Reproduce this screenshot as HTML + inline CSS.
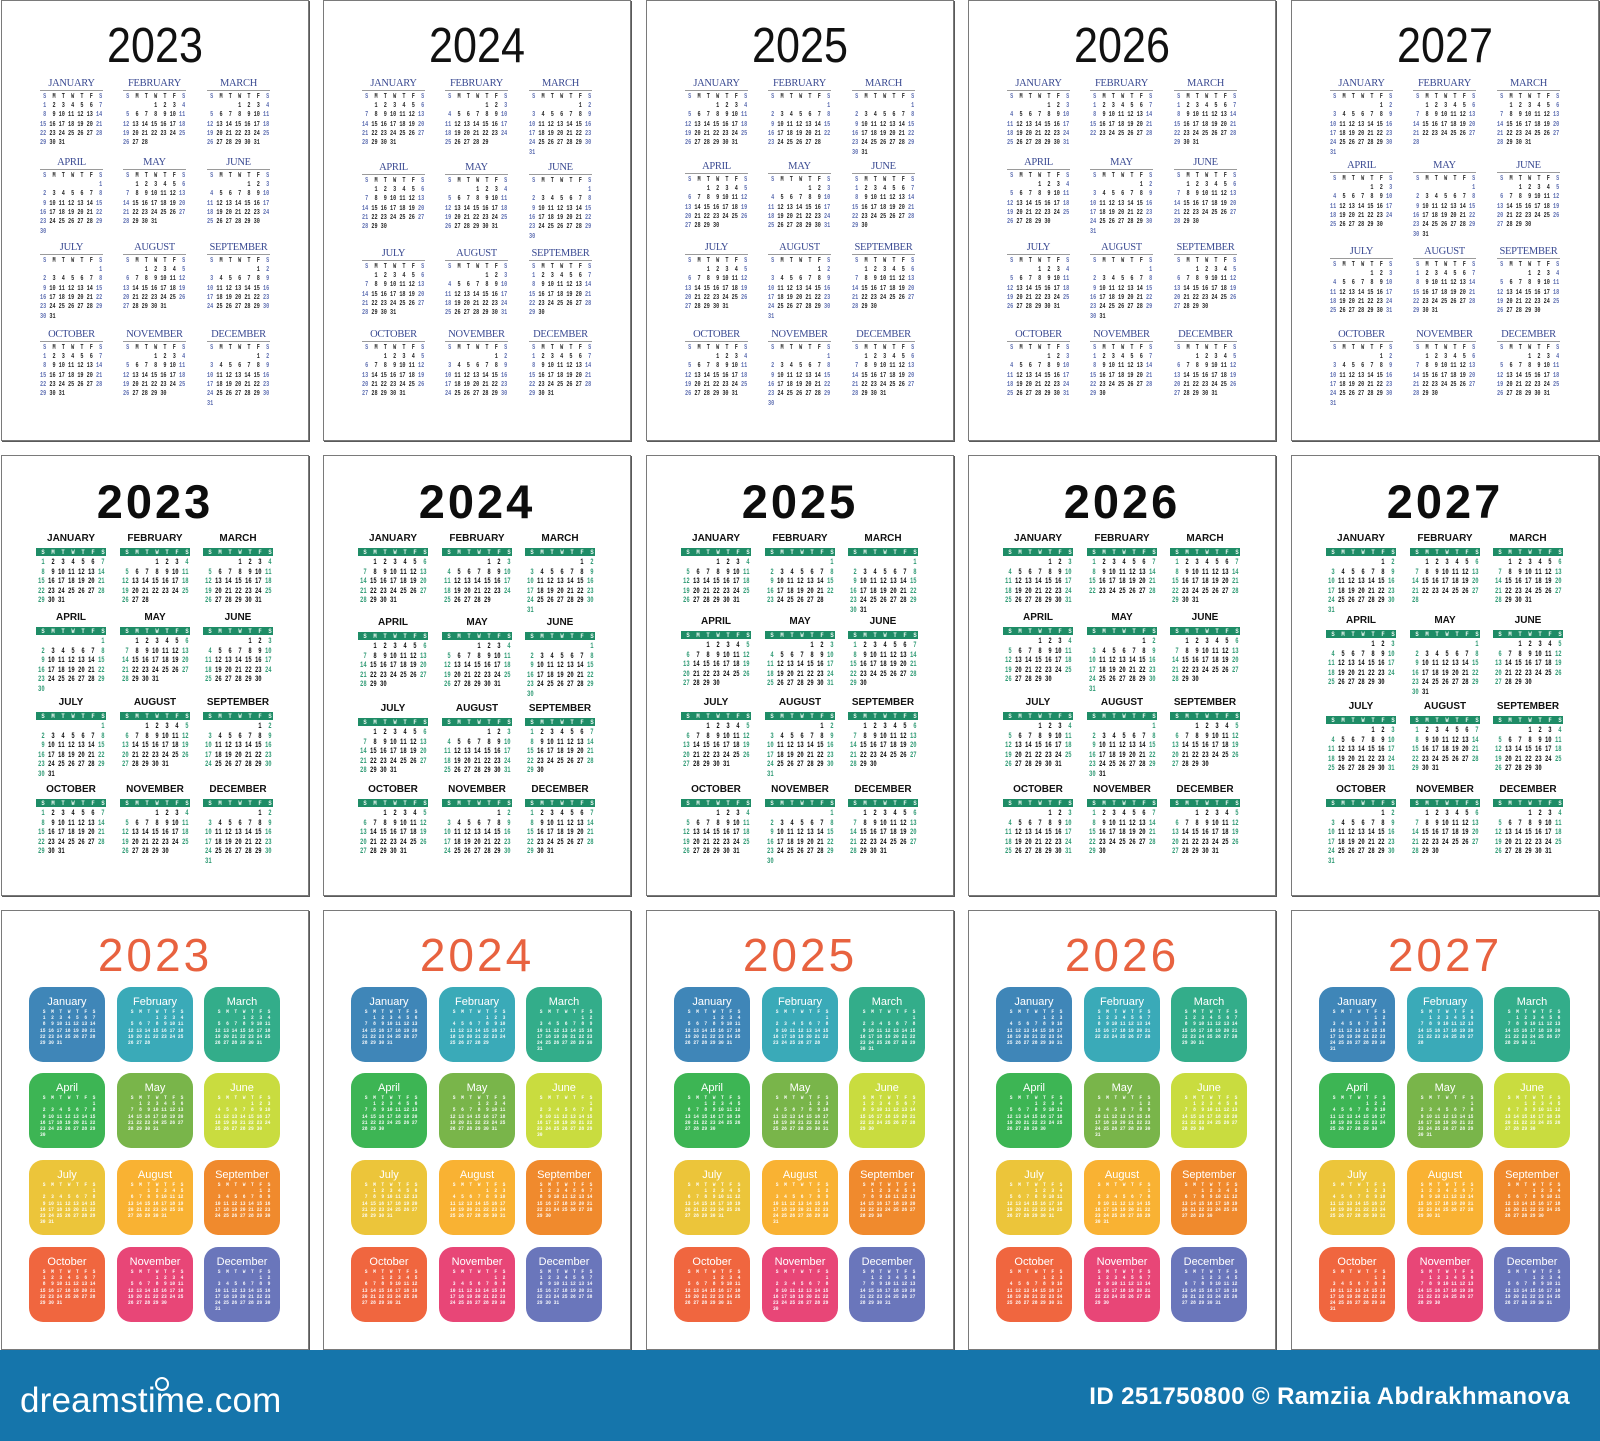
<!DOCTYPE html>
<html><head><meta charset="utf-8"><style>
*{margin:0;padding:0;box-sizing:border-box}
body{width:1600px;height:1441px;position:relative;overflow:hidden;background:#fff;font-family:"Liberation Sans",sans-serif}
.cd{position:absolute;width:308px;height:441px;border:1px solid #7a7a7a;box-shadow:1px 1px 0 #5a5a5a;background:#fff}
.x0{left:1px}.x1{left:323px}.x2{left:646px}.x3{left:968px}.x4{left:1291px}
.r1{top:0}.r2{top:455px}.r3{top:910px;height:440px}
.yr{position:absolute;left:0;width:306px;text-align:center;line-height:1}
.r1 .yr{top:21px;font-size:49px;color:#111;transform:scaleX(.88)}
.r2 .yr{top:22px;font-size:47px;font-weight:bold;letter-spacing:3px;color:#0d0d0d}
.r3 .yr{top:21px;font-size:46px;letter-spacing:3px;color:#e8623f}
.q{position:absolute;left:0;width:306px;height:80px}
.m{position:absolute;top:0}
pre{position:absolute;left:0;margin:0;font-family:"Liberation Mono",monospace;font-weight:bold;transform-origin:0 0;white-space:pre;width:20ch;-webkit-background-clip:text;background-clip:text;color:transparent}
.r1 .m{width:63px}.r1 .c1{left:38px}.r1 .c2{left:121px}.r1 .c3{left:205px}
.r1 .t{font:10.5px/12px "Liberation Serif",serif;color:#3a4a92;text-align:center;border-bottom:1px solid #9a9a9a;height:13px;letter-spacing:-.3px}
.r1 pre{top:14.85px;font-size:7.5px;line-height:9.3px;transform:scaleX(.691);background-image:linear-gradient(90deg,#5b6cb0 2.5ch,#262626 2.5ch,#262626 17.5ch,#5b6cb0 17.5ch)}
.r2 .m{width:70px}.r2 .c1{left:34px}.r2 .c2{left:118px}.r2 .c3{left:201px}
.r2 .t{font:bold 10px/12px "Liberation Sans",sans-serif;color:#111;text-align:center}
.r2 .bar{position:absolute;top:15px;left:0;width:70px;height:8px;background:#1e8c66}
.r2 pre{top:25.25px;left:1.67px;font-size:8px;line-height:9.5px;transform:scaleX(.694);background-image:linear-gradient(90deg,#2f9a74 2.5ch,#111 2.5ch,#111 17.5ch,#2f9a74 17.5ch)}
.r2 .bar pre{top:.5px;left:1.67px;font-size:6.5px;line-height:7px;transform:scaleX(.855);color:#eef8f3;background:none}
.r3 .m{width:76px;height:75px;border-radius:14px}
.r3 .c1{left:27px}.r3 .c2{left:115px}.r3 .c3{left:202px}
.r3 .t{position:absolute;top:8px;left:0;width:76px;text-align:center;font:11px/14px "Liberation Sans",sans-serif;color:#fff}
.r3 pre{top:21.9px;left:11.2px;font-size:5.5px;line-height:6.2px;transform:scaleX(.84);color:rgba(255,255,255,.92);background:none}
.k1{background:#3f86b8}.k2{background:#3aaab8}.k3{background:#33ad8a}.k4{background:#3db554}.k5{background:#79b54a}.k6{background:#c9dc3f}.k7{background:#ecc53a}.k8{background:#f9b233}.k9{background:#f08a2d}.k10{background:#f0663f}.k11{background:#e84677}.k12{background:#6a76bb}
.ft{position:absolute;left:0;top:1350px;width:1600px;height:91px;background:#1575ab}
.ds{position:absolute;left:20px;top:1383px;font-size:35px;line-height:35px;color:#fff;letter-spacing:.2px}
.sp{position:absolute;left:155px;top:1377px;width:14px;height:14px;border:2.5px solid #fff;border-radius:50%}
.id{position:absolute;right:30px;top:1385px;font:bold 24px/24px "Liberation Sans",sans-serif;color:#fff;letter-spacing:.4px}
</style></head><body>

<!-- ROW 1 -->
<div class="cd r1 x0"><div class="yr">2023</div>
<div class="q" style="top:77px">
<div class="m c1"><p class="t">JANUARY</p><pre> S  M  T  W  T  F  S
 1  2  3  4  5  6  7
 8  9 10 11 12 13 14
15 16 17 18 19 20 21
22 23 24 25 26 27 28
29 30 31</pre></div>
<div class="m c2"><p class="t">FEBRUARY</p><pre> S  M  T  W  T  F  S
          1  2  3  4
 5  6  7  8  9 10 11
12 13 14 15 16 17 18
19 20 21 22 23 24 25
26 27 28</pre></div>
<div class="m c3"><p class="t">MARCH</p><pre> S  M  T  W  T  F  S
          1  2  3  4
 5  6  7  8  9 10 11
12 13 14 15 16 17 18
19 20 21 22 23 24 25
26 27 28 29 30 31</pre></div>
</div>
<div class="q" style="top:156px">
<div class="m c1"><p class="t">APRIL</p><pre> S  M  T  W  T  F  S
                   1
 2  3  4  5  6  7  8
 9 10 11 12 13 14 15
16 17 18 19 20 21 22
23 24 25 26 27 28 29
30</pre></div>
<div class="m c2"><p class="t">MAY</p><pre> S  M  T  W  T  F  S
    1  2  3  4  5  6
 7  8  9 10 11 12 13
14 15 16 17 18 19 20
21 22 23 24 25 26 27
28 29 30 31</pre></div>
<div class="m c3"><p class="t">JUNE</p><pre> S  M  T  W  T  F  S
             1  2  3
 4  5  6  7  8  9 10
11 12 13 14 15 16 17
18 19 20 21 22 23 24
25 26 27 28 29 30</pre></div>
</div>
<div class="q" style="top:241px">
<div class="m c1"><p class="t">JULY</p><pre> S  M  T  W  T  F  S
                   1
 2  3  4  5  6  7  8
 9 10 11 12 13 14 15
16 17 18 19 20 21 22
23 24 25 26 27 28 29
30 31</pre></div>
<div class="m c2"><p class="t">AUGUST</p><pre> S  M  T  W  T  F  S
       1  2  3  4  5
 6  7  8  9 10 11 12
13 14 15 16 17 18 19
20 21 22 23 24 25 26
27 28 29 30 31</pre></div>
<div class="m c3"><p class="t">SEPTEMBER</p><pre> S  M  T  W  T  F  S
                1  2
 3  4  5  6  7  8  9
10 11 12 13 14 15 16
17 18 19 20 21 22 23
24 25 26 27 28 29 30</pre></div>
</div>
<div class="q" style="top:328px">
<div class="m c1"><p class="t">OCTOBER</p><pre> S  M  T  W  T  F  S
 1  2  3  4  5  6  7
 8  9 10 11 12 13 14
15 16 17 18 19 20 21
22 23 24 25 26 27 28
29 30 31</pre></div>
<div class="m c2"><p class="t">NOVEMBER</p><pre> S  M  T  W  T  F  S
          1  2  3  4
 5  6  7  8  9 10 11
12 13 14 15 16 17 18
19 20 21 22 23 24 25
26 27 28 29 30</pre></div>
<div class="m c3"><p class="t">DECEMBER</p><pre> S  M  T  W  T  F  S
                1  2
 3  4  5  6  7  8  9
10 11 12 13 14 15 16
17 18 19 20 21 22 23
24 25 26 27 28 29 30
31</pre></div>
</div>
</div>

<div class="cd r1 x1"><div class="yr">2024</div>
<div class="q" style="top:77px">
<div class="m c1"><p class="t">JANUARY</p><pre> S  M  T  W  T  F  S
    1  2  3  4  5  6
 7  8  9 10 11 12 13
14 15 16 17 18 19 20
21 22 23 24 25 26 27
28 29 30 31</pre></div>
<div class="m c2"><p class="t">FEBRUARY</p><pre> S  M  T  W  T  F  S
             1  2  3
 4  5  6  7  8  9 10
11 12 13 14 15 16 17
18 19 20 21 22 23 24
25 26 27 28 29</pre></div>
<div class="m c3"><p class="t">MARCH</p><pre> S  M  T  W  T  F  S
                1  2
 3  4  5  6  7  8  9
10 11 12 13 14 15 16
17 18 19 20 21 22 23
24 25 26 27 28 29 30
31</pre></div>
</div>
<div class="q" style="top:161px">
<div class="m c1"><p class="t">APRIL</p><pre> S  M  T  W  T  F  S
    1  2  3  4  5  6
 7  8  9 10 11 12 13
14 15 16 17 18 19 20
21 22 23 24 25 26 27
28 29 30</pre></div>
<div class="m c2"><p class="t">MAY</p><pre> S  M  T  W  T  F  S
          1  2  3  4
 5  6  7  8  9 10 11
12 13 14 15 16 17 18
19 20 21 22 23 24 25
26 27 28 29 30 31</pre></div>
<div class="m c3"><p class="t">JUNE</p><pre> S  M  T  W  T  F  S
                   1
 2  3  4  5  6  7  8
 9 10 11 12 13 14 15
16 17 18 19 20 21 22
23 24 25 26 27 28 29
30</pre></div>
</div>
<div class="q" style="top:247px">
<div class="m c1"><p class="t">JULY</p><pre> S  M  T  W  T  F  S
    1  2  3  4  5  6
 7  8  9 10 11 12 13
14 15 16 17 18 19 20
21 22 23 24 25 26 27
28 29 30 31</pre></div>
<div class="m c2"><p class="t">AUGUST</p><pre> S  M  T  W  T  F  S
             1  2  3
 4  5  6  7  8  9 10
11 12 13 14 15 16 17
18 19 20 21 22 23 24
25 26 27 28 29 30 31</pre></div>
<div class="m c3"><p class="t">SEPTEMBER</p><pre> S  M  T  W  T  F  S
 1  2  3  4  5  6  7
 8  9 10 11 12 13 14
15 16 17 18 19 20 21
22 23 24 25 26 27 28
29 30</pre></div>
</div>
<div class="q" style="top:328px">
<div class="m c1"><p class="t">OCTOBER</p><pre> S  M  T  W  T  F  S
       1  2  3  4  5
 6  7  8  9 10 11 12
13 14 15 16 17 18 19
20 21 22 23 24 25 26
27 28 29 30 31</pre></div>
<div class="m c2"><p class="t">NOVEMBER</p><pre> S  M  T  W  T  F  S
                1  2
 3  4  5  6  7  8  9
10 11 12 13 14 15 16
17 18 19 20 21 22 23
24 25 26 27 28 29 30</pre></div>
<div class="m c3"><p class="t">DECEMBER</p><pre> S  M  T  W  T  F  S
 1  2  3  4  5  6  7
 8  9 10 11 12 13 14
15 16 17 18 19 20 21
22 23 24 25 26 27 28
29 30 31</pre></div>
</div>
</div>

<div class="cd r1 x2"><div class="yr">2025</div>
<div class="q" style="top:77px">
<div class="m c1"><p class="t">JANUARY</p><pre> S  M  T  W  T  F  S
          1  2  3  4
 5  6  7  8  9 10 11
12 13 14 15 16 17 18
19 20 21 22 23 24 25
26 27 28 29 30 31</pre></div>
<div class="m c2"><p class="t">FEBRUARY</p><pre> S  M  T  W  T  F  S
                   1
 2  3  4  5  6  7  8
 9 10 11 12 13 14 15
16 17 18 19 20 21 22
23 24 25 26 27 28</pre></div>
<div class="m c3"><p class="t">MARCH</p><pre> S  M  T  W  T  F  S
                   1
 2  3  4  5  6  7  8
 9 10 11 12 13 14 15
16 17 18 19 20 21 22
23 24 25 26 27 28 29
30 31</pre></div>
</div>
<div class="q" style="top:160px">
<div class="m c1"><p class="t">APRIL</p><pre> S  M  T  W  T  F  S
       1  2  3  4  5
 6  7  8  9 10 11 12
13 14 15 16 17 18 19
20 21 22 23 24 25 26
27 28 29 30</pre></div>
<div class="m c2"><p class="t">MAY</p><pre> S  M  T  W  T  F  S
             1  2  3
 4  5  6  7  8  9 10
11 12 13 14 15 16 17
18 19 20 21 22 23 24
25 26 27 28 29 30 31</pre></div>
<div class="m c3"><p class="t">JUNE</p><pre> S  M  T  W  T  F  S
 1  2  3  4  5  6  7
 8  9 10 11 12 13 14
15 16 17 18 19 20 21
22 23 24 25 26 27 28
29 30</pre></div>
</div>
<div class="q" style="top:241px">
<div class="m c1"><p class="t">JULY</p><pre> S  M  T  W  T  F  S
       1  2  3  4  5
 6  7  8  9 10 11 12
13 14 15 16 17 18 19
20 21 22 23 24 25 26
27 28 29 30 31</pre></div>
<div class="m c2"><p class="t">AUGUST</p><pre> S  M  T  W  T  F  S
                1  2
 3  4  5  6  7  8  9
10 11 12 13 14 15 16
17 18 19 20 21 22 23
24 25 26 27 28 29 30
31</pre></div>
<div class="m c3"><p class="t">SEPTEMBER</p><pre> S  M  T  W  T  F  S
    1  2  3  4  5  6
 7  8  9 10 11 12 13
14 15 16 17 18 19 20
21 22 23 24 25 26 27
28 29 30</pre></div>
</div>
<div class="q" style="top:328px">
<div class="m c1"><p class="t">OCTOBER</p><pre> S  M  T  W  T  F  S
          1  2  3  4
 5  6  7  8  9 10 11
12 13 14 15 16 17 18
19 20 21 22 23 24 25
26 27 28 29 30 31</pre></div>
<div class="m c2"><p class="t">NOVEMBER</p><pre> S  M  T  W  T  F  S
                   1
 2  3  4  5  6  7  8
 9 10 11 12 13 14 15
16 17 18 19 20 21 22
23 24 25 26 27 28 29
30</pre></div>
<div class="m c3"><p class="t">DECEMBER</p><pre> S  M  T  W  T  F  S
    1  2  3  4  5  6
 7  8  9 10 11 12 13
14 15 16 17 18 19 20
21 22 23 24 25 26 27
28 29 30 31</pre></div>
</div>
</div>

<div class="cd r1 x3"><div class="yr">2026</div>
<div class="q" style="top:77px">
<div class="m c1"><p class="t">JANUARY</p><pre> S  M  T  W  T  F  S
             1  2  3
 4  5  6  7  8  9 10
11 12 13 14 15 16 17
18 19 20 21 22 23 24
25 26 27 28 29 30 31</pre></div>
<div class="m c2"><p class="t">FEBRUARY</p><pre> S  M  T  W  T  F  S
 1  2  3  4  5  6  7
 8  9 10 11 12 13 14
15 16 17 18 19 20 21
22 23 24 25 26 27 28</pre></div>
<div class="m c3"><p class="t">MARCH</p><pre> S  M  T  W  T  F  S
 1  2  3  4  5  6  7
 8  9 10 11 12 13 14
15 16 17 18 19 20 21
22 23 24 25 26 27 28
29 30 31</pre></div>
</div>
<div class="q" style="top:156px">
<div class="m c1"><p class="t">APRIL</p><pre> S  M  T  W  T  F  S
          1  2  3  4
 5  6  7  8  9 10 11
12 13 14 15 16 17 18
19 20 21 22 23 24 25
26 27 28 29 30</pre></div>
<div class="m c2"><p class="t">MAY</p><pre> S  M  T  W  T  F  S
                1  2
 3  4  5  6  7  8  9
10 11 12 13 14 15 16
17 18 19 20 21 22 23
24 25 26 27 28 29 30
31</pre></div>
<div class="m c3"><p class="t">JUNE</p><pre> S  M  T  W  T  F  S
    1  2  3  4  5  6
 7  8  9 10 11 12 13
14 15 16 17 18 19 20
21 22 23 24 25 26 27
28 29 30</pre></div>
</div>
<div class="q" style="top:241px">
<div class="m c1"><p class="t">JULY</p><pre> S  M  T  W  T  F  S
          1  2  3  4
 5  6  7  8  9 10 11
12 13 14 15 16 17 18
19 20 21 22 23 24 25
26 27 28 29 30 31</pre></div>
<div class="m c2"><p class="t">AUGUST</p><pre> S  M  T  W  T  F  S
                   1
 2  3  4  5  6  7  8
 9 10 11 12 13 14 15
16 17 18 19 20 21 22
23 24 25 26 27 28 29
30 31</pre></div>
<div class="m c3"><p class="t">SEPTEMBER</p><pre> S  M  T  W  T  F  S
       1  2  3  4  5
 6  7  8  9 10 11 12
13 14 15 16 17 18 19
20 21 22 23 24 25 26
27 28 29 30</pre></div>
</div>
<div class="q" style="top:328px">
<div class="m c1"><p class="t">OCTOBER</p><pre> S  M  T  W  T  F  S
             1  2  3
 4  5  6  7  8  9 10
11 12 13 14 15 16 17
18 19 20 21 22 23 24
25 26 27 28 29 30 31</pre></div>
<div class="m c2"><p class="t">NOVEMBER</p><pre> S  M  T  W  T  F  S
 1  2  3  4  5  6  7
 8  9 10 11 12 13 14
15 16 17 18 19 20 21
22 23 24 25 26 27 28
29 30</pre></div>
<div class="m c3"><p class="t">DECEMBER</p><pre> S  M  T  W  T  F  S
       1  2  3  4  5
 6  7  8  9 10 11 12
13 14 15 16 17 18 19
20 21 22 23 24 25 26
27 28 29 30 31</pre></div>
</div>
</div>

<div class="cd r1 x4"><div class="yr">2027</div>
<div class="q" style="top:77px">
<div class="m c1"><p class="t">JANUARY</p><pre> S  M  T  W  T  F  S
                1  2
 3  4  5  6  7  8  9
10 11 12 13 14 15 16
17 18 19 20 21 22 23
24 25 26 27 28 29 30
31</pre></div>
<div class="m c2"><p class="t">FEBRUARY</p><pre> S  M  T  W  T  F  S
    1  2  3  4  5  6
 7  8  9 10 11 12 13
14 15 16 17 18 19 20
21 22 23 24 25 26 27
28</pre></div>
<div class="m c3"><p class="t">MARCH</p><pre> S  M  T  W  T  F  S
    1  2  3  4  5  6
 7  8  9 10 11 12 13
14 15 16 17 18 19 20
21 22 23 24 25 26 27
28 29 30 31</pre></div>
</div>
<div class="q" style="top:159px">
<div class="m c1"><p class="t">APRIL</p><pre> S  M  T  W  T  F  S
             1  2  3
 4  5  6  7  8  9 10
11 12 13 14 15 16 17
18 19 20 21 22 23 24
25 26 27 28 29 30</pre></div>
<div class="m c2"><p class="t">MAY</p><pre> S  M  T  W  T  F  S
                   1
 2  3  4  5  6  7  8
 9 10 11 12 13 14 15
16 17 18 19 20 21 22
23 24 25 26 27 28 29
30 31</pre></div>
<div class="m c3"><p class="t">JUNE</p><pre> S  M  T  W  T  F  S
       1  2  3  4  5
 6  7  8  9 10 11 12
13 14 15 16 17 18 19
20 21 22 23 24 25 26
27 28 29 30</pre></div>
</div>
<div class="q" style="top:245px">
<div class="m c1"><p class="t">JULY</p><pre> S  M  T  W  T  F  S
             1  2  3
 4  5  6  7  8  9 10
11 12 13 14 15 16 17
18 19 20 21 22 23 24
25 26 27 28 29 30 31</pre></div>
<div class="m c2"><p class="t">AUGUST</p><pre> S  M  T  W  T  F  S
 1  2  3  4  5  6  7
 8  9 10 11 12 13 14
15 16 17 18 19 20 21
22 23 24 25 26 27 28
29 30 31</pre></div>
<div class="m c3"><p class="t">SEPTEMBER</p><pre> S  M  T  W  T  F  S
          1  2  3  4
 5  6  7  8  9 10 11
12 13 14 15 16 17 18
19 20 21 22 23 24 25
26 27 28 29 30</pre></div>
</div>
<div class="q" style="top:328px">
<div class="m c1"><p class="t">OCTOBER</p><pre> S  M  T  W  T  F  S
                1  2
 3  4  5  6  7  8  9
10 11 12 13 14 15 16
17 18 19 20 21 22 23
24 25 26 27 28 29 30
31</pre></div>
<div class="m c2"><p class="t">NOVEMBER</p><pre> S  M  T  W  T  F  S
    1  2  3  4  5  6
 7  8  9 10 11 12 13
14 15 16 17 18 19 20
21 22 23 24 25 26 27
28 29 30</pre></div>
<div class="m c3"><p class="t">DECEMBER</p><pre> S  M  T  W  T  F  S
          1  2  3  4
 5  6  7  8  9 10 11
12 13 14 15 16 17 18
19 20 21 22 23 24 25
26 27 28 29 30 31</pre></div>
</div>
</div>

<!-- ROW 2 -->
<div class="cd r2 x0"><div class="yr">2023</div>
<div class="q" style="top:77px">
<div class="m c1"><p class="t">JANUARY</p><div class="bar"><pre> S  M  T  W  T  F  S</pre></div><pre> 1  2  3  4  5  6  7
 8  9 10 11 12 13 14
15 16 17 18 19 20 21
22 23 24 25 26 27 28
29 30 31</pre></div>
<div class="m c2"><p class="t">FEBRUARY</p><div class="bar"><pre> S  M  T  W  T  F  S</pre></div><pre>          1  2  3  4
 5  6  7  8  9 10 11
12 13 14 15 16 17 18
19 20 21 22 23 24 25
26 27 28</pre></div>
<div class="m c3"><p class="t">MARCH</p><div class="bar"><pre> S  M  T  W  T  F  S</pre></div><pre>          1  2  3  4
 5  6  7  8  9 10 11
12 13 14 15 16 17 18
19 20 21 22 23 24 25
26 27 28 29 30 31</pre></div>
</div>
<div class="q" style="top:156px">
<div class="m c1"><p class="t">APRIL</p><div class="bar"><pre> S  M  T  W  T  F  S</pre></div><pre>                   1
 2  3  4  5  6  7  8
 9 10 11 12 13 14 15
16 17 18 19 20 21 22
23 24 25 26 27 28 29
30</pre></div>
<div class="m c2"><p class="t">MAY</p><div class="bar"><pre> S  M  T  W  T  F  S</pre></div><pre>    1  2  3  4  5  6
 7  8  9 10 11 12 13
14 15 16 17 18 19 20
21 22 23 24 25 26 27
28 29 30 31</pre></div>
<div class="m c3"><p class="t">JUNE</p><div class="bar"><pre> S  M  T  W  T  F  S</pre></div><pre>             1  2  3
 4  5  6  7  8  9 10
11 12 13 14 15 16 17
18 19 20 21 22 23 24
25 26 27 28 29 30</pre></div>
</div>
<div class="q" style="top:241px">
<div class="m c1"><p class="t">JULY</p><div class="bar"><pre> S  M  T  W  T  F  S</pre></div><pre>                   1
 2  3  4  5  6  7  8
 9 10 11 12 13 14 15
16 17 18 19 20 21 22
23 24 25 26 27 28 29
30 31</pre></div>
<div class="m c2"><p class="t">AUGUST</p><div class="bar"><pre> S  M  T  W  T  F  S</pre></div><pre>       1  2  3  4  5
 6  7  8  9 10 11 12
13 14 15 16 17 18 19
20 21 22 23 24 25 26
27 28 29 30 31</pre></div>
<div class="m c3"><p class="t">SEPTEMBER</p><div class="bar"><pre> S  M  T  W  T  F  S</pre></div><pre>                1  2
 3  4  5  6  7  8  9
10 11 12 13 14 15 16
17 18 19 20 21 22 23
24 25 26 27 28 29 30</pre></div>
</div>
<div class="q" style="top:328px">
<div class="m c1"><p class="t">OCTOBER</p><div class="bar"><pre> S  M  T  W  T  F  S</pre></div><pre> 1  2  3  4  5  6  7
 8  9 10 11 12 13 14
15 16 17 18 19 20 21
22 23 24 25 26 27 28
29 30 31</pre></div>
<div class="m c2"><p class="t">NOVEMBER</p><div class="bar"><pre> S  M  T  W  T  F  S</pre></div><pre>          1  2  3  4
 5  6  7  8  9 10 11
12 13 14 15 16 17 18
19 20 21 22 23 24 25
26 27 28 29 30</pre></div>
<div class="m c3"><p class="t">DECEMBER</p><div class="bar"><pre> S  M  T  W  T  F  S</pre></div><pre>                1  2
 3  4  5  6  7  8  9
10 11 12 13 14 15 16
17 18 19 20 21 22 23
24 25 26 27 28 29 30
31</pre></div>
</div>
</div>

<div class="cd r2 x1"><div class="yr">2024</div>
<div class="q" style="top:77px">
<div class="m c1"><p class="t">JANUARY</p><div class="bar"><pre> S  M  T  W  T  F  S</pre></div><pre>    1  2  3  4  5  6
 7  8  9 10 11 12 13
14 15 16 17 18 19 20
21 22 23 24 25 26 27
28 29 30 31</pre></div>
<div class="m c2"><p class="t">FEBRUARY</p><div class="bar"><pre> S  M  T  W  T  F  S</pre></div><pre>             1  2  3
 4  5  6  7  8  9 10
11 12 13 14 15 16 17
18 19 20 21 22 23 24
25 26 27 28 29</pre></div>
<div class="m c3"><p class="t">MARCH</p><div class="bar"><pre> S  M  T  W  T  F  S</pre></div><pre>                1  2
 3  4  5  6  7  8  9
10 11 12 13 14 15 16
17 18 19 20 21 22 23
24 25 26 27 28 29 30
31</pre></div>
</div>
<div class="q" style="top:161px">
<div class="m c1"><p class="t">APRIL</p><div class="bar"><pre> S  M  T  W  T  F  S</pre></div><pre>    1  2  3  4  5  6
 7  8  9 10 11 12 13
14 15 16 17 18 19 20
21 22 23 24 25 26 27
28 29 30</pre></div>
<div class="m c2"><p class="t">MAY</p><div class="bar"><pre> S  M  T  W  T  F  S</pre></div><pre>          1  2  3  4
 5  6  7  8  9 10 11
12 13 14 15 16 17 18
19 20 21 22 23 24 25
26 27 28 29 30 31</pre></div>
<div class="m c3"><p class="t">JUNE</p><div class="bar"><pre> S  M  T  W  T  F  S</pre></div><pre>                   1
 2  3  4  5  6  7  8
 9 10 11 12 13 14 15
16 17 18 19 20 21 22
23 24 25 26 27 28 29
30</pre></div>
</div>
<div class="q" style="top:247px">
<div class="m c1"><p class="t">JULY</p><div class="bar"><pre> S  M  T  W  T  F  S</pre></div><pre>    1  2  3  4  5  6
 7  8  9 10 11 12 13
14 15 16 17 18 19 20
21 22 23 24 25 26 27
28 29 30 31</pre></div>
<div class="m c2"><p class="t">AUGUST</p><div class="bar"><pre> S  M  T  W  T  F  S</pre></div><pre>             1  2  3
 4  5  6  7  8  9 10
11 12 13 14 15 16 17
18 19 20 21 22 23 24
25 26 27 28 29 30 31</pre></div>
<div class="m c3"><p class="t">SEPTEMBER</p><div class="bar"><pre> S  M  T  W  T  F  S</pre></div><pre> 1  2  3  4  5  6  7
 8  9 10 11 12 13 14
15 16 17 18 19 20 21
22 23 24 25 26 27 28
29 30</pre></div>
</div>
<div class="q" style="top:328px">
<div class="m c1"><p class="t">OCTOBER</p><div class="bar"><pre> S  M  T  W  T  F  S</pre></div><pre>       1  2  3  4  5
 6  7  8  9 10 11 12
13 14 15 16 17 18 19
20 21 22 23 24 25 26
27 28 29 30 31</pre></div>
<div class="m c2"><p class="t">NOVEMBER</p><div class="bar"><pre> S  M  T  W  T  F  S</pre></div><pre>                1  2
 3  4  5  6  7  8  9
10 11 12 13 14 15 16
17 18 19 20 21 22 23
24 25 26 27 28 29 30</pre></div>
<div class="m c3"><p class="t">DECEMBER</p><div class="bar"><pre> S  M  T  W  T  F  S</pre></div><pre> 1  2  3  4  5  6  7
 8  9 10 11 12 13 14
15 16 17 18 19 20 21
22 23 24 25 26 27 28
29 30 31</pre></div>
</div>
</div>

<div class="cd r2 x2"><div class="yr">2025</div>
<div class="q" style="top:77px">
<div class="m c1"><p class="t">JANUARY</p><div class="bar"><pre> S  M  T  W  T  F  S</pre></div><pre>          1  2  3  4
 5  6  7  8  9 10 11
12 13 14 15 16 17 18
19 20 21 22 23 24 25
26 27 28 29 30 31</pre></div>
<div class="m c2"><p class="t">FEBRUARY</p><div class="bar"><pre> S  M  T  W  T  F  S</pre></div><pre>                   1
 2  3  4  5  6  7  8
 9 10 11 12 13 14 15
16 17 18 19 20 21 22
23 24 25 26 27 28</pre></div>
<div class="m c3"><p class="t">MARCH</p><div class="bar"><pre> S  M  T  W  T  F  S</pre></div><pre>                   1
 2  3  4  5  6  7  8
 9 10 11 12 13 14 15
16 17 18 19 20 21 22
23 24 25 26 27 28 29
30 31</pre></div>
</div>
<div class="q" style="top:160px">
<div class="m c1"><p class="t">APRIL</p><div class="bar"><pre> S  M  T  W  T  F  S</pre></div><pre>       1  2  3  4  5
 6  7  8  9 10 11 12
13 14 15 16 17 18 19
20 21 22 23 24 25 26
27 28 29 30</pre></div>
<div class="m c2"><p class="t">MAY</p><div class="bar"><pre> S  M  T  W  T  F  S</pre></div><pre>             1  2  3
 4  5  6  7  8  9 10
11 12 13 14 15 16 17
18 19 20 21 22 23 24
25 26 27 28 29 30 31</pre></div>
<div class="m c3"><p class="t">JUNE</p><div class="bar"><pre> S  M  T  W  T  F  S</pre></div><pre> 1  2  3  4  5  6  7
 8  9 10 11 12 13 14
15 16 17 18 19 20 21
22 23 24 25 26 27 28
29 30</pre></div>
</div>
<div class="q" style="top:241px">
<div class="m c1"><p class="t">JULY</p><div class="bar"><pre> S  M  T  W  T  F  S</pre></div><pre>       1  2  3  4  5
 6  7  8  9 10 11 12
13 14 15 16 17 18 19
20 21 22 23 24 25 26
27 28 29 30 31</pre></div>
<div class="m c2"><p class="t">AUGUST</p><div class="bar"><pre> S  M  T  W  T  F  S</pre></div><pre>                1  2
 3  4  5  6  7  8  9
10 11 12 13 14 15 16
17 18 19 20 21 22 23
24 25 26 27 28 29 30
31</pre></div>
<div class="m c3"><p class="t">SEPTEMBER</p><div class="bar"><pre> S  M  T  W  T  F  S</pre></div><pre>    1  2  3  4  5  6
 7  8  9 10 11 12 13
14 15 16 17 18 19 20
21 22 23 24 25 26 27
28 29 30</pre></div>
</div>
<div class="q" style="top:328px">
<div class="m c1"><p class="t">OCTOBER</p><div class="bar"><pre> S  M  T  W  T  F  S</pre></div><pre>          1  2  3  4
 5  6  7  8  9 10 11
12 13 14 15 16 17 18
19 20 21 22 23 24 25
26 27 28 29 30 31</pre></div>
<div class="m c2"><p class="t">NOVEMBER</p><div class="bar"><pre> S  M  T  W  T  F  S</pre></div><pre>                   1
 2  3  4  5  6  7  8
 9 10 11 12 13 14 15
16 17 18 19 20 21 22
23 24 25 26 27 28 29
30</pre></div>
<div class="m c3"><p class="t">DECEMBER</p><div class="bar"><pre> S  M  T  W  T  F  S</pre></div><pre>    1  2  3  4  5  6
 7  8  9 10 11 12 13
14 15 16 17 18 19 20
21 22 23 24 25 26 27
28 29 30 31</pre></div>
</div>
</div>

<div class="cd r2 x3"><div class="yr">2026</div>
<div class="q" style="top:77px">
<div class="m c1"><p class="t">JANUARY</p><div class="bar"><pre> S  M  T  W  T  F  S</pre></div><pre>             1  2  3
 4  5  6  7  8  9 10
11 12 13 14 15 16 17
18 19 20 21 22 23 24
25 26 27 28 29 30 31</pre></div>
<div class="m c2"><p class="t">FEBRUARY</p><div class="bar"><pre> S  M  T  W  T  F  S</pre></div><pre> 1  2  3  4  5  6  7
 8  9 10 11 12 13 14
15 16 17 18 19 20 21
22 23 24 25 26 27 28</pre></div>
<div class="m c3"><p class="t">MARCH</p><div class="bar"><pre> S  M  T  W  T  F  S</pre></div><pre> 1  2  3  4  5  6  7
 8  9 10 11 12 13 14
15 16 17 18 19 20 21
22 23 24 25 26 27 28
29 30 31</pre></div>
</div>
<div class="q" style="top:156px">
<div class="m c1"><p class="t">APRIL</p><div class="bar"><pre> S  M  T  W  T  F  S</pre></div><pre>          1  2  3  4
 5  6  7  8  9 10 11
12 13 14 15 16 17 18
19 20 21 22 23 24 25
26 27 28 29 30</pre></div>
<div class="m c2"><p class="t">MAY</p><div class="bar"><pre> S  M  T  W  T  F  S</pre></div><pre>                1  2
 3  4  5  6  7  8  9
10 11 12 13 14 15 16
17 18 19 20 21 22 23
24 25 26 27 28 29 30
31</pre></div>
<div class="m c3"><p class="t">JUNE</p><div class="bar"><pre> S  M  T  W  T  F  S</pre></div><pre>    1  2  3  4  5  6
 7  8  9 10 11 12 13
14 15 16 17 18 19 20
21 22 23 24 25 26 27
28 29 30</pre></div>
</div>
<div class="q" style="top:241px">
<div class="m c1"><p class="t">JULY</p><div class="bar"><pre> S  M  T  W  T  F  S</pre></div><pre>          1  2  3  4
 5  6  7  8  9 10 11
12 13 14 15 16 17 18
19 20 21 22 23 24 25
26 27 28 29 30 31</pre></div>
<div class="m c2"><p class="t">AUGUST</p><div class="bar"><pre> S  M  T  W  T  F  S</pre></div><pre>                   1
 2  3  4  5  6  7  8
 9 10 11 12 13 14 15
16 17 18 19 20 21 22
23 24 25 26 27 28 29
30 31</pre></div>
<div class="m c3"><p class="t">SEPTEMBER</p><div class="bar"><pre> S  M  T  W  T  F  S</pre></div><pre>       1  2  3  4  5
 6  7  8  9 10 11 12
13 14 15 16 17 18 19
20 21 22 23 24 25 26
27 28 29 30</pre></div>
</div>
<div class="q" style="top:328px">
<div class="m c1"><p class="t">OCTOBER</p><div class="bar"><pre> S  M  T  W  T  F  S</pre></div><pre>             1  2  3
 4  5  6  7  8  9 10
11 12 13 14 15 16 17
18 19 20 21 22 23 24
25 26 27 28 29 30 31</pre></div>
<div class="m c2"><p class="t">NOVEMBER</p><div class="bar"><pre> S  M  T  W  T  F  S</pre></div><pre> 1  2  3  4  5  6  7
 8  9 10 11 12 13 14
15 16 17 18 19 20 21
22 23 24 25 26 27 28
29 30</pre></div>
<div class="m c3"><p class="t">DECEMBER</p><div class="bar"><pre> S  M  T  W  T  F  S</pre></div><pre>       1  2  3  4  5
 6  7  8  9 10 11 12
13 14 15 16 17 18 19
20 21 22 23 24 25 26
27 28 29 30 31</pre></div>
</div>
</div>

<div class="cd r2 x4"><div class="yr">2027</div>
<div class="q" style="top:77px">
<div class="m c1"><p class="t">JANUARY</p><div class="bar"><pre> S  M  T  W  T  F  S</pre></div><pre>                1  2
 3  4  5  6  7  8  9
10 11 12 13 14 15 16
17 18 19 20 21 22 23
24 25 26 27 28 29 30
31</pre></div>
<div class="m c2"><p class="t">FEBRUARY</p><div class="bar"><pre> S  M  T  W  T  F  S</pre></div><pre>    1  2  3  4  5  6
 7  8  9 10 11 12 13
14 15 16 17 18 19 20
21 22 23 24 25 26 27
28</pre></div>
<div class="m c3"><p class="t">MARCH</p><div class="bar"><pre> S  M  T  W  T  F  S</pre></div><pre>    1  2  3  4  5  6
 7  8  9 10 11 12 13
14 15 16 17 18 19 20
21 22 23 24 25 26 27
28 29 30 31</pre></div>
</div>
<div class="q" style="top:159px">
<div class="m c1"><p class="t">APRIL</p><div class="bar"><pre> S  M  T  W  T  F  S</pre></div><pre>             1  2  3
 4  5  6  7  8  9 10
11 12 13 14 15 16 17
18 19 20 21 22 23 24
25 26 27 28 29 30</pre></div>
<div class="m c2"><p class="t">MAY</p><div class="bar"><pre> S  M  T  W  T  F  S</pre></div><pre>                   1
 2  3  4  5  6  7  8
 9 10 11 12 13 14 15
16 17 18 19 20 21 22
23 24 25 26 27 28 29
30 31</pre></div>
<div class="m c3"><p class="t">JUNE</p><div class="bar"><pre> S  M  T  W  T  F  S</pre></div><pre>       1  2  3  4  5
 6  7  8  9 10 11 12
13 14 15 16 17 18 19
20 21 22 23 24 25 26
27 28 29 30</pre></div>
</div>
<div class="q" style="top:245px">
<div class="m c1"><p class="t">JULY</p><div class="bar"><pre> S  M  T  W  T  F  S</pre></div><pre>             1  2  3
 4  5  6  7  8  9 10
11 12 13 14 15 16 17
18 19 20 21 22 23 24
25 26 27 28 29 30 31</pre></div>
<div class="m c2"><p class="t">AUGUST</p><div class="bar"><pre> S  M  T  W  T  F  S</pre></div><pre> 1  2  3  4  5  6  7
 8  9 10 11 12 13 14
15 16 17 18 19 20 21
22 23 24 25 26 27 28
29 30 31</pre></div>
<div class="m c3"><p class="t">SEPTEMBER</p><div class="bar"><pre> S  M  T  W  T  F  S</pre></div><pre>          1  2  3  4
 5  6  7  8  9 10 11
12 13 14 15 16 17 18
19 20 21 22 23 24 25
26 27 28 29 30</pre></div>
</div>
<div class="q" style="top:328px">
<div class="m c1"><p class="t">OCTOBER</p><div class="bar"><pre> S  M  T  W  T  F  S</pre></div><pre>                1  2
 3  4  5  6  7  8  9
10 11 12 13 14 15 16
17 18 19 20 21 22 23
24 25 26 27 28 29 30
31</pre></div>
<div class="m c2"><p class="t">NOVEMBER</p><div class="bar"><pre> S  M  T  W  T  F  S</pre></div><pre>    1  2  3  4  5  6
 7  8  9 10 11 12 13
14 15 16 17 18 19 20
21 22 23 24 25 26 27
28 29 30</pre></div>
<div class="m c3"><p class="t">DECEMBER</p><div class="bar"><pre> S  M  T  W  T  F  S</pre></div><pre>          1  2  3  4
 5  6  7  8  9 10 11
12 13 14 15 16 17 18
19 20 21 22 23 24 25
26 27 28 29 30 31</pre></div>
</div>
</div>

<!-- ROW 3 -->
<div class="cd r3 x0"><div class="yr">2023</div>
<div class="q" style="top:76px">
<div class="m c1 k1"><p class="t">January</p><pre> S  M  T  W  T  F  S
 1  2  3  4  5  6  7
 8  9 10 11 12 13 14
15 16 17 18 19 20 21
22 23 24 25 26 27 28
29 30 31</pre></div>
<div class="m c2 k2"><p class="t">February</p><pre> S  M  T  W  T  F  S
          1  2  3  4
 5  6  7  8  9 10 11
12 13 14 15 16 17 18
19 20 21 22 23 24 25
26 27 28</pre></div>
<div class="m c3 k3"><p class="t">March</p><pre> S  M  T  W  T  F  S
          1  2  3  4
 5  6  7  8  9 10 11
12 13 14 15 16 17 18
19 20 21 22 23 24 25
26 27 28 29 30 31</pre></div>
</div>
<div class="q" style="top:162px">
<div class="m c1 k4"><p class="t">April</p><pre> S  M  T  W  T  F  S
                   1
 2  3  4  5  6  7  8
 9 10 11 12 13 14 15
16 17 18 19 20 21 22
23 24 25 26 27 28 29
30</pre></div>
<div class="m c2 k5"><p class="t">May</p><pre> S  M  T  W  T  F  S
    1  2  3  4  5  6
 7  8  9 10 11 12 13
14 15 16 17 18 19 20
21 22 23 24 25 26 27
28 29 30 31</pre></div>
<div class="m c3 k6"><p class="t">June</p><pre> S  M  T  W  T  F  S
             1  2  3
 4  5  6  7  8  9 10
11 12 13 14 15 16 17
18 19 20 21 22 23 24
25 26 27 28 29 30</pre></div>
</div>
<div class="q" style="top:249px">
<div class="m c1 k7"><p class="t">July</p><pre> S  M  T  W  T  F  S
                   1
 2  3  4  5  6  7  8
 9 10 11 12 13 14 15
16 17 18 19 20 21 22
23 24 25 26 27 28 29
30 31</pre></div>
<div class="m c2 k8"><p class="t">August</p><pre> S  M  T  W  T  F  S
       1  2  3  4  5
 6  7  8  9 10 11 12
13 14 15 16 17 18 19
20 21 22 23 24 25 26
27 28 29 30 31</pre></div>
<div class="m c3 k9"><p class="t">September</p><pre> S  M  T  W  T  F  S
                1  2
 3  4  5  6  7  8  9
10 11 12 13 14 15 16
17 18 19 20 21 22 23
24 25 26 27 28 29 30</pre></div>
</div>
<div class="q" style="top:336px">
<div class="m c1 k10"><p class="t">October</p><pre> S  M  T  W  T  F  S
 1  2  3  4  5  6  7
 8  9 10 11 12 13 14
15 16 17 18 19 20 21
22 23 24 25 26 27 28
29 30 31</pre></div>
<div class="m c2 k11"><p class="t">November</p><pre> S  M  T  W  T  F  S
          1  2  3  4
 5  6  7  8  9 10 11
12 13 14 15 16 17 18
19 20 21 22 23 24 25
26 27 28 29 30</pre></div>
<div class="m c3 k12"><p class="t">December</p><pre> S  M  T  W  T  F  S
                1  2
 3  4  5  6  7  8  9
10 11 12 13 14 15 16
17 18 19 20 21 22 23
24 25 26 27 28 29 30
31</pre></div>
</div>
</div>

<div class="cd r3 x1"><div class="yr">2024</div>
<div class="q" style="top:76px">
<div class="m c1 k1"><p class="t">January</p><pre> S  M  T  W  T  F  S
    1  2  3  4  5  6
 7  8  9 10 11 12 13
14 15 16 17 18 19 20
21 22 23 24 25 26 27
28 29 30 31</pre></div>
<div class="m c2 k2"><p class="t">February</p><pre> S  M  T  W  T  F  S
             1  2  3
 4  5  6  7  8  9 10
11 12 13 14 15 16 17
18 19 20 21 22 23 24
25 26 27 28 29</pre></div>
<div class="m c3 k3"><p class="t">March</p><pre> S  M  T  W  T  F  S
                1  2
 3  4  5  6  7  8  9
10 11 12 13 14 15 16
17 18 19 20 21 22 23
24 25 26 27 28 29 30
31</pre></div>
</div>
<div class="q" style="top:162px">
<div class="m c1 k4"><p class="t">April</p><pre> S  M  T  W  T  F  S
    1  2  3  4  5  6
 7  8  9 10 11 12 13
14 15 16 17 18 19 20
21 22 23 24 25 26 27
28 29 30</pre></div>
<div class="m c2 k5"><p class="t">May</p><pre> S  M  T  W  T  F  S
          1  2  3  4
 5  6  7  8  9 10 11
12 13 14 15 16 17 18
19 20 21 22 23 24 25
26 27 28 29 30 31</pre></div>
<div class="m c3 k6"><p class="t">June</p><pre> S  M  T  W  T  F  S
                   1
 2  3  4  5  6  7  8
 9 10 11 12 13 14 15
16 17 18 19 20 21 22
23 24 25 26 27 28 29
30</pre></div>
</div>
<div class="q" style="top:249px">
<div class="m c1 k7"><p class="t">July</p><pre> S  M  T  W  T  F  S
    1  2  3  4  5  6
 7  8  9 10 11 12 13
14 15 16 17 18 19 20
21 22 23 24 25 26 27
28 29 30 31</pre></div>
<div class="m c2 k8"><p class="t">August</p><pre> S  M  T  W  T  F  S
             1  2  3
 4  5  6  7  8  9 10
11 12 13 14 15 16 17
18 19 20 21 22 23 24
25 26 27 28 29 30 31</pre></div>
<div class="m c3 k9"><p class="t">September</p><pre> S  M  T  W  T  F  S
 1  2  3  4  5  6  7
 8  9 10 11 12 13 14
15 16 17 18 19 20 21
22 23 24 25 26 27 28
29 30</pre></div>
</div>
<div class="q" style="top:336px">
<div class="m c1 k10"><p class="t">October</p><pre> S  M  T  W  T  F  S
       1  2  3  4  5
 6  7  8  9 10 11 12
13 14 15 16 17 18 19
20 21 22 23 24 25 26
27 28 29 30 31</pre></div>
<div class="m c2 k11"><p class="t">November</p><pre> S  M  T  W  T  F  S
                1  2
 3  4  5  6  7  8  9
10 11 12 13 14 15 16
17 18 19 20 21 22 23
24 25 26 27 28 29 30</pre></div>
<div class="m c3 k12"><p class="t">December</p><pre> S  M  T  W  T  F  S
 1  2  3  4  5  6  7
 8  9 10 11 12 13 14
15 16 17 18 19 20 21
22 23 24 25 26 27 28
29 30 31</pre></div>
</div>
</div>

<div class="cd r3 x2"><div class="yr">2025</div>
<div class="q" style="top:76px">
<div class="m c1 k1"><p class="t">January</p><pre> S  M  T  W  T  F  S
          1  2  3  4
 5  6  7  8  9 10 11
12 13 14 15 16 17 18
19 20 21 22 23 24 25
26 27 28 29 30 31</pre></div>
<div class="m c2 k2"><p class="t">February</p><pre> S  M  T  W  T  F  S
                   1
 2  3  4  5  6  7  8
 9 10 11 12 13 14 15
16 17 18 19 20 21 22
23 24 25 26 27 28</pre></div>
<div class="m c3 k3"><p class="t">March</p><pre> S  M  T  W  T  F  S
                   1
 2  3  4  5  6  7  8
 9 10 11 12 13 14 15
16 17 18 19 20 21 22
23 24 25 26 27 28 29
30 31</pre></div>
</div>
<div class="q" style="top:162px">
<div class="m c1 k4"><p class="t">April</p><pre> S  M  T  W  T  F  S
       1  2  3  4  5
 6  7  8  9 10 11 12
13 14 15 16 17 18 19
20 21 22 23 24 25 26
27 28 29 30</pre></div>
<div class="m c2 k5"><p class="t">May</p><pre> S  M  T  W  T  F  S
             1  2  3
 4  5  6  7  8  9 10
11 12 13 14 15 16 17
18 19 20 21 22 23 24
25 26 27 28 29 30 31</pre></div>
<div class="m c3 k6"><p class="t">June</p><pre> S  M  T  W  T  F  S
 1  2  3  4  5  6  7
 8  9 10 11 12 13 14
15 16 17 18 19 20 21
22 23 24 25 26 27 28
29 30</pre></div>
</div>
<div class="q" style="top:249px">
<div class="m c1 k7"><p class="t">July</p><pre> S  M  T  W  T  F  S
       1  2  3  4  5
 6  7  8  9 10 11 12
13 14 15 16 17 18 19
20 21 22 23 24 25 26
27 28 29 30 31</pre></div>
<div class="m c2 k8"><p class="t">August</p><pre> S  M  T  W  T  F  S
                1  2
 3  4  5  6  7  8  9
10 11 12 13 14 15 16
17 18 19 20 21 22 23
24 25 26 27 28 29 30
31</pre></div>
<div class="m c3 k9"><p class="t">September</p><pre> S  M  T  W  T  F  S
    1  2  3  4  5  6
 7  8  9 10 11 12 13
14 15 16 17 18 19 20
21 22 23 24 25 26 27
28 29 30</pre></div>
</div>
<div class="q" style="top:336px">
<div class="m c1 k10"><p class="t">October</p><pre> S  M  T  W  T  F  S
          1  2  3  4
 5  6  7  8  9 10 11
12 13 14 15 16 17 18
19 20 21 22 23 24 25
26 27 28 29 30 31</pre></div>
<div class="m c2 k11"><p class="t">November</p><pre> S  M  T  W  T  F  S
                   1
 2  3  4  5  6  7  8
 9 10 11 12 13 14 15
16 17 18 19 20 21 22
23 24 25 26 27 28 29
30</pre></div>
<div class="m c3 k12"><p class="t">December</p><pre> S  M  T  W  T  F  S
    1  2  3  4  5  6
 7  8  9 10 11 12 13
14 15 16 17 18 19 20
21 22 23 24 25 26 27
28 29 30 31</pre></div>
</div>
</div>

<div class="cd r3 x3"><div class="yr">2026</div>
<div class="q" style="top:76px">
<div class="m c1 k1"><p class="t">January</p><pre> S  M  T  W  T  F  S
             1  2  3
 4  5  6  7  8  9 10
11 12 13 14 15 16 17
18 19 20 21 22 23 24
25 26 27 28 29 30 31</pre></div>
<div class="m c2 k2"><p class="t">February</p><pre> S  M  T  W  T  F  S
 1  2  3  4  5  6  7
 8  9 10 11 12 13 14
15 16 17 18 19 20 21
22 23 24 25 26 27 28</pre></div>
<div class="m c3 k3"><p class="t">March</p><pre> S  M  T  W  T  F  S
 1  2  3  4  5  6  7
 8  9 10 11 12 13 14
15 16 17 18 19 20 21
22 23 24 25 26 27 28
29 30 31</pre></div>
</div>
<div class="q" style="top:162px">
<div class="m c1 k4"><p class="t">April</p><pre> S  M  T  W  T  F  S
          1  2  3  4
 5  6  7  8  9 10 11
12 13 14 15 16 17 18
19 20 21 22 23 24 25
26 27 28 29 30</pre></div>
<div class="m c2 k5"><p class="t">May</p><pre> S  M  T  W  T  F  S
                1  2
 3  4  5  6  7  8  9
10 11 12 13 14 15 16
17 18 19 20 21 22 23
24 25 26 27 28 29 30
31</pre></div>
<div class="m c3 k6"><p class="t">June</p><pre> S  M  T  W  T  F  S
    1  2  3  4  5  6
 7  8  9 10 11 12 13
14 15 16 17 18 19 20
21 22 23 24 25 26 27
28 29 30</pre></div>
</div>
<div class="q" style="top:249px">
<div class="m c1 k7"><p class="t">July</p><pre> S  M  T  W  T  F  S
          1  2  3  4
 5  6  7  8  9 10 11
12 13 14 15 16 17 18
19 20 21 22 23 24 25
26 27 28 29 30 31</pre></div>
<div class="m c2 k8"><p class="t">August</p><pre> S  M  T  W  T  F  S
                   1
 2  3  4  5  6  7  8
 9 10 11 12 13 14 15
16 17 18 19 20 21 22
23 24 25 26 27 28 29
30 31</pre></div>
<div class="m c3 k9"><p class="t">September</p><pre> S  M  T  W  T  F  S
       1  2  3  4  5
 6  7  8  9 10 11 12
13 14 15 16 17 18 19
20 21 22 23 24 25 26
27 28 29 30</pre></div>
</div>
<div class="q" style="top:336px">
<div class="m c1 k10"><p class="t">October</p><pre> S  M  T  W  T  F  S
             1  2  3
 4  5  6  7  8  9 10
11 12 13 14 15 16 17
18 19 20 21 22 23 24
25 26 27 28 29 30 31</pre></div>
<div class="m c2 k11"><p class="t">November</p><pre> S  M  T  W  T  F  S
 1  2  3  4  5  6  7
 8  9 10 11 12 13 14
15 16 17 18 19 20 21
22 23 24 25 26 27 28
29 30</pre></div>
<div class="m c3 k12"><p class="t">December</p><pre> S  M  T  W  T  F  S
       1  2  3  4  5
 6  7  8  9 10 11 12
13 14 15 16 17 18 19
20 21 22 23 24 25 26
27 28 29 30 31</pre></div>
</div>
</div>

<div class="cd r3 x4"><div class="yr">2027</div>
<div class="q" style="top:76px">
<div class="m c1 k1"><p class="t">January</p><pre> S  M  T  W  T  F  S
                1  2
 3  4  5  6  7  8  9
10 11 12 13 14 15 16
17 18 19 20 21 22 23
24 25 26 27 28 29 30
31</pre></div>
<div class="m c2 k2"><p class="t">February</p><pre> S  M  T  W  T  F  S
    1  2  3  4  5  6
 7  8  9 10 11 12 13
14 15 16 17 18 19 20
21 22 23 24 25 26 27
28</pre></div>
<div class="m c3 k3"><p class="t">March</p><pre> S  M  T  W  T  F  S
    1  2  3  4  5  6
 7  8  9 10 11 12 13
14 15 16 17 18 19 20
21 22 23 24 25 26 27
28 29 30 31</pre></div>
</div>
<div class="q" style="top:162px">
<div class="m c1 k4"><p class="t">April</p><pre> S  M  T  W  T  F  S
             1  2  3
 4  5  6  7  8  9 10
11 12 13 14 15 16 17
18 19 20 21 22 23 24
25 26 27 28 29 30</pre></div>
<div class="m c2 k5"><p class="t">May</p><pre> S  M  T  W  T  F  S
                   1
 2  3  4  5  6  7  8
 9 10 11 12 13 14 15
16 17 18 19 20 21 22
23 24 25 26 27 28 29
30 31</pre></div>
<div class="m c3 k6"><p class="t">June</p><pre> S  M  T  W  T  F  S
       1  2  3  4  5
 6  7  8  9 10 11 12
13 14 15 16 17 18 19
20 21 22 23 24 25 26
27 28 29 30</pre></div>
</div>
<div class="q" style="top:249px">
<div class="m c1 k7"><p class="t">July</p><pre> S  M  T  W  T  F  S
             1  2  3
 4  5  6  7  8  9 10
11 12 13 14 15 16 17
18 19 20 21 22 23 24
25 26 27 28 29 30 31</pre></div>
<div class="m c2 k8"><p class="t">August</p><pre> S  M  T  W  T  F  S
 1  2  3  4  5  6  7
 8  9 10 11 12 13 14
15 16 17 18 19 20 21
22 23 24 25 26 27 28
29 30 31</pre></div>
<div class="m c3 k9"><p class="t">September</p><pre> S  M  T  W  T  F  S
          1  2  3  4
 5  6  7  8  9 10 11
12 13 14 15 16 17 18
19 20 21 22 23 24 25
26 27 28 29 30</pre></div>
</div>
<div class="q" style="top:336px">
<div class="m c1 k10"><p class="t">October</p><pre> S  M  T  W  T  F  S
                1  2
 3  4  5  6  7  8  9
10 11 12 13 14 15 16
17 18 19 20 21 22 23
24 25 26 27 28 29 30
31</pre></div>
<div class="m c2 k11"><p class="t">November</p><pre> S  M  T  W  T  F  S
    1  2  3  4  5  6
 7  8  9 10 11 12 13
14 15 16 17 18 19 20
21 22 23 24 25 26 27
28 29 30</pre></div>
<div class="m c3 k12"><p class="t">December</p><pre> S  M  T  W  T  F  S
          1  2  3  4
 5  6  7  8  9 10 11
12 13 14 15 16 17 18
19 20 21 22 23 24 25
26 27 28 29 30 31</pre></div>
</div>
</div>

<!-- FOOTER -->
<div class="ft"></div>
<div class="ds">dreamstime.com</div>
<div class="sp"></div>
<div class="id">ID 251750800 © Ramziia Abdrakhmanova</div>
</body></html>
